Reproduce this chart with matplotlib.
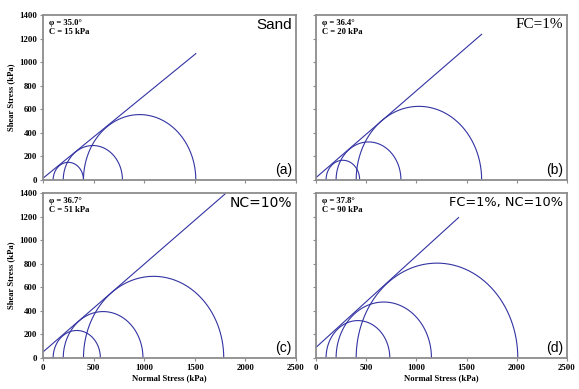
import numpy as np
import matplotlib
matplotlib.use("Agg")
import matplotlib.pyplot as plt

# --- data ------------------------------------------------------------------------------
titles = ["Sand", "FC=1%", "NC=10%", "FC=1%, NC=10%"]
tags = ["(a)", "(b)", "(c)", "(d)"]
phi_deg = [35.0, 36.4, 36.7, 37.8]
cohesion = [15, 20, 51, 90]
sigma3 = [[100, 200, 400], [100, 200, 400], [100, 200, 400], [100, 200, 400]]
sigma1 = [[400, 785, 1510], [435, 846, 1650], [567, 988, 1786], [735, 1150, 2010]]
env_end = [1510, 1650, 1800, 1420]
xticks = [0, 500, 1000, 1500, 2000, 2500]
yticks = [0, 200, 400, 600, 800, 1000, 1200, 1400]

W, H = 579, 389
BLUE = "#3333a3"
SERIF = "Liberation Serif"

fig = plt.figure(figsize=(W / 100, H / 100), dpi=100)

# panel boxes in pixels: (left, top, right, bottom)
boxes = [(43, 15, 296, 180), (316, 15, 567, 180),
         (43, 193, 296, 358), (316, 193, 567, 358)]
title_fonts = ["Liberation Sans", SERIF, "DejaVu Sans", "DejaVu Sans"]
title_sizes = [11, 11, 10, 9.3]

for i, (l, t, r, b) in enumerate(boxes):
    ax = fig.add_axes([l / W, 1 - b / H, (r - l) / W, (b - t) / H])
    ax.set_xlim(0, 2500)
    ax.set_ylim(0, 1400)
    ax.set_xticks(xticks)
    ax.set_yticks(yticks)
    for s in ax.spines.values():
        s.set_color("#8c8c8c")
        s.set_linewidth(1.3)
    ax.tick_params(direction="out", length=2.5, width=0.8, color="#8c8c8c",
                   labelsize=6.3, pad=1.5)
    for lab in ax.get_xticklabels() + ax.get_yticklabels():
        lab.set_fontfamily(SERIF)
        lab.set_fontweight("bold")

    if i % 2 == 1:
        ax.tick_params(labelleft=False)
    else:
        ax.set_ylabel("Shear Stress (kPa)", fontsize=6.2, fontweight="bold",
                      family=SERIF, labelpad=3)
    if i < 2:
        ax.tick_params(labelbottom=False)
    else:
        ax.set_xlabel("Normal Stress (kPa)", fontsize=6.2, fontweight="bold",
                      family=SERIF, labelpad=2)

    # Mohr circles (upper halves)
    th = np.linspace(0, np.pi, 300)
    for s3, s1 in zip(sigma3[i], sigma1[i]):
        c0 = (s1 + s3) / 2
        rad = (s1 - s3) / 2
        ax.plot(c0 + rad * np.cos(th), rad * np.sin(th), color=BLUE, lw=0.8)

    # failure envelope
    xe = np.array([0, env_end[i]])
    ax.plot(xe, cohesion[i] + xe * np.tan(np.radians(phi_deg[i])), color=BLUE, lw=0.8)

    ax.annotate(f"\u03c6 = {phi_deg[i]:.1f}\u00b0\nC = {cohesion[i]} kPa",
                xy=(0, 1), xycoords="axes fraction", xytext=(4, -3),
                textcoords="offset points", ha="left", va="top",
                fontsize=6.2, fontweight="bold", family=SERIF, linespacing=1.2)
    ax.annotate(titles[i], xy=(1, 1), xycoords="axes fraction", xytext=(-3, -2),
                textcoords="offset points", ha="right", va="top",
                fontsize=title_sizes[i], family=title_fonts[i])
    ax.annotate(tags[i], xy=(1, 0), xycoords="axes fraction", xytext=(-3, 2),
                textcoords="offset points", ha="right", va="bottom",
                fontsize=10, family="Liberation Sans")

fig.savefig("out.png", dpi=100)
